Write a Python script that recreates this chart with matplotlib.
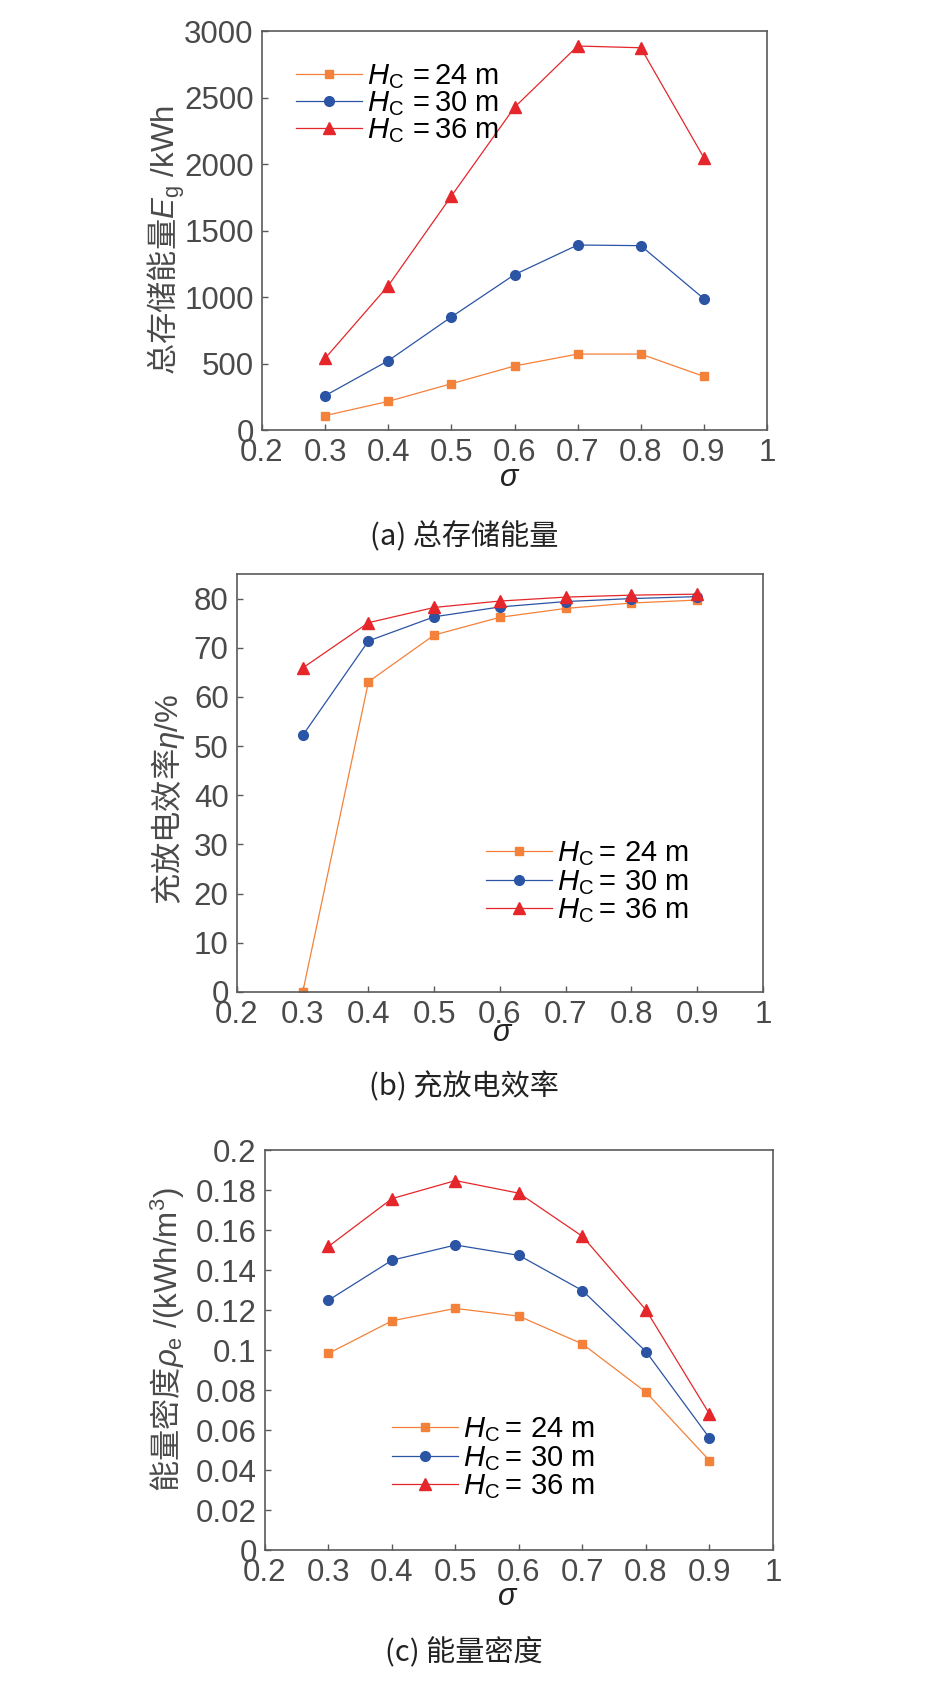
import matplotlib
matplotlib.use('Agg')
import matplotlib.pyplot as plt
from matplotlib.ticker import FuncFormatter

plt.rcParams['font.family'] = ['Liberation Sans', 'Noto Sans CJK SC']
plt.rcParams['mathtext.fontset'] = 'custom'
plt.rcParams['mathtext.rm'] = 'Liberation Sans'
plt.rcParams['mathtext.sf'] = 'Liberation Sans'
plt.rcParams['mathtext.it'] = 'Liberation Sans:italic'

sigma = [0.3, 0.4, 0.5, 0.6, 0.7, 0.8, 0.9]
labels_a = [r'$H_{\mathsf{C}}\,\mathsf{=24\ m}$', r'$H_{\mathsf{C}}\,\mathsf{=30\ m}$',
            r'$H_{\mathsf{C}}\,\mathsf{=36\ m}$']
labels_bc = [r'$H_{\mathsf{C}}\mathsf{=\,24\ m}$', r'$H_{\mathsf{C}}\mathsf{=\,30\ m}$',
             r'$H_{\mathsf{C}}\mathsf{=\,36\ m}$']

# (a) total stored energy, kWh
energy_24 = [108, 215, 348, 481, 571, 571, 403]
energy_30 = [258, 521, 850, 1168, 1391, 1386, 987]
energy_36 = [539, 1085, 1759, 2426, 2887, 2874, 2047]

# (b) charge/discharge efficiency, %
eff_24 = [0.0, 63.1, 72.6, 76.2, 78.0, 79.1, 79.7]
eff_30 = [52.2, 71.4, 76.3, 78.3, 79.4, 80.0, 80.4]
eff_36 = [65.9, 75.1, 78.2, 79.5, 80.3, 80.7, 80.9]

# (c) energy density, kWh/m3
dens_24 = [0.0983, 0.1146, 0.1208, 0.1169, 0.1030, 0.0789, 0.0447]
dens_30 = [0.1249, 0.1449, 0.1525, 0.1473, 0.1297, 0.0992, 0.0560]
dens_36 = [0.1518, 0.1757, 0.1847, 0.1784, 0.1568, 0.1200, 0.0680]

xticks = [0.2, 0.3, 0.4, 0.5, 0.6, 0.7, 0.8, 0.9, 1.0]

W, H = 928, 1682
fig = plt.figure(figsize=(W / 100, H / 100), dpi=100, facecolor='white')

orange = '#F4813A'
blue = '#2B54A4'
red = '#E5262A'
grey = '#4a4a4a'
spine = '#5a5a5a'


def make_axes(l, r, t, b):
    return fig.add_axes([l / W, 1 - b / H, (r - l) / W, (b - t) / H])


def style(ax, yticks, ylim):
    ax.set_xlim(0.2, 1.0)
    ax.set_ylim(*ylim)
    ax.set_xticks(xticks)
    ax.set_yticks(yticks)
    fmt = FuncFormatter(lambda v, p: f'{v:g}')
    ax.xaxis.set_major_formatter(fmt)
    ax.yaxis.set_major_formatter(fmt)
    ax.tick_params(direction='in', length=4, width=1, colors=spine,
                   labelcolor=grey, labelsize=22.5, pad=6)
    for s in ax.spines.values():
        s.set_color(spine)
        s.set_linewidth(1.2)


def draw(ax, s1, s2, s3, labels, anchor, spacing):
    ax.plot(sigma, s1, color=orange, lw=0.9, marker='s', ms=5.5, label=labels[0])
    ax.plot(sigma, s2, color=blue, lw=0.9, marker='o', ms=7, label=labels[1])
    ax.plot(sigma, s3, color=red, lw=0.9, marker='^', ms=8, label=labels[2])
    ax.legend(loc='upper left', bbox_to_anchor=(anchor[0] / W, 1 - anchor[1] / H),
              bbox_transform=fig.transFigure, frameon=False, fontsize=21,
              handlelength=2.25, handletextpad=0.2, labelspacing=spacing,
              borderpad=0, borderaxespad=0, numpoints=1)


# (a)
ax1 = make_axes(262, 767, 31, 430)
draw(ax1, energy_24, energy_30, energy_36, labels_a, (296, 62), -0.05)
style(ax1, [0, 500, 1000, 1500, 2000, 2500, 3000], (0, 3000))

# (b)
ax2 = make_axes(237, 763, 574, 992)
draw(ax2, eff_24, eff_30, eff_36, labels_bc, (486, 839), 0.0)
style(ax2, list(range(0, 81, 10)), (0, 85))

# (c)
ax3 = make_axes(265, 773, 1150, 1550)
draw(ax3, dens_24, dens_30, dens_36, labels_bc, (392, 1415), 0.0)
style(ax3, [i * 0.02 for i in range(11)], (0, 0.2))

# axis labels and captions (non-math part drawn in the text's own CJK font)
ylab = dict(rotation=90, ha='center', va='center', fontsize=22.5, color=grey,
            family='Noto Sans CJK SC')
fig.text(166 / W, 1 - 240 / H, r'总存储能量$E_{\mathsf{g}}\mathsf{\ /kWh}$', **ylab)
fig.text(168 / W, 1 - 800 / H, r'充放电效率$\eta\mathsf{/\%}$', **ylab)
fig.text(168 / W, 1 - 1340 / H, r'能量密度$\rho_{\mathsf{e}}\mathsf{\ /(kWh/m^3)}$', **ylab)

xlab = dict(ha='center', va='center', fontsize=22, color='#222222')
fig.text(510 / W, 1 - 478 / H, r'$\sigma$', **xlab)
fig.text(503 / W, 1 - 1033 / H, r'$\sigma$', **xlab)
fig.text(508 / W, 1 - 1597 / H, r'$\sigma$', **xlab)

cap = dict(ha='center', va='center', fontsize=21, color='#222222',
           family=['Noto Sans CJK SC', 'DejaVu Sans'])
fig.text(464 / W, 1 - 537 / H, '(a) 总存储能量', **cap)
fig.text(464 / W, 1 - 1087 / H, '(b) 充放电效率', **cap)
fig.text(464 / W, 1 - 1652 / H, '(c) 能量密度', **cap)

fig.savefig('out.png', dpi=100, facecolor='white')
